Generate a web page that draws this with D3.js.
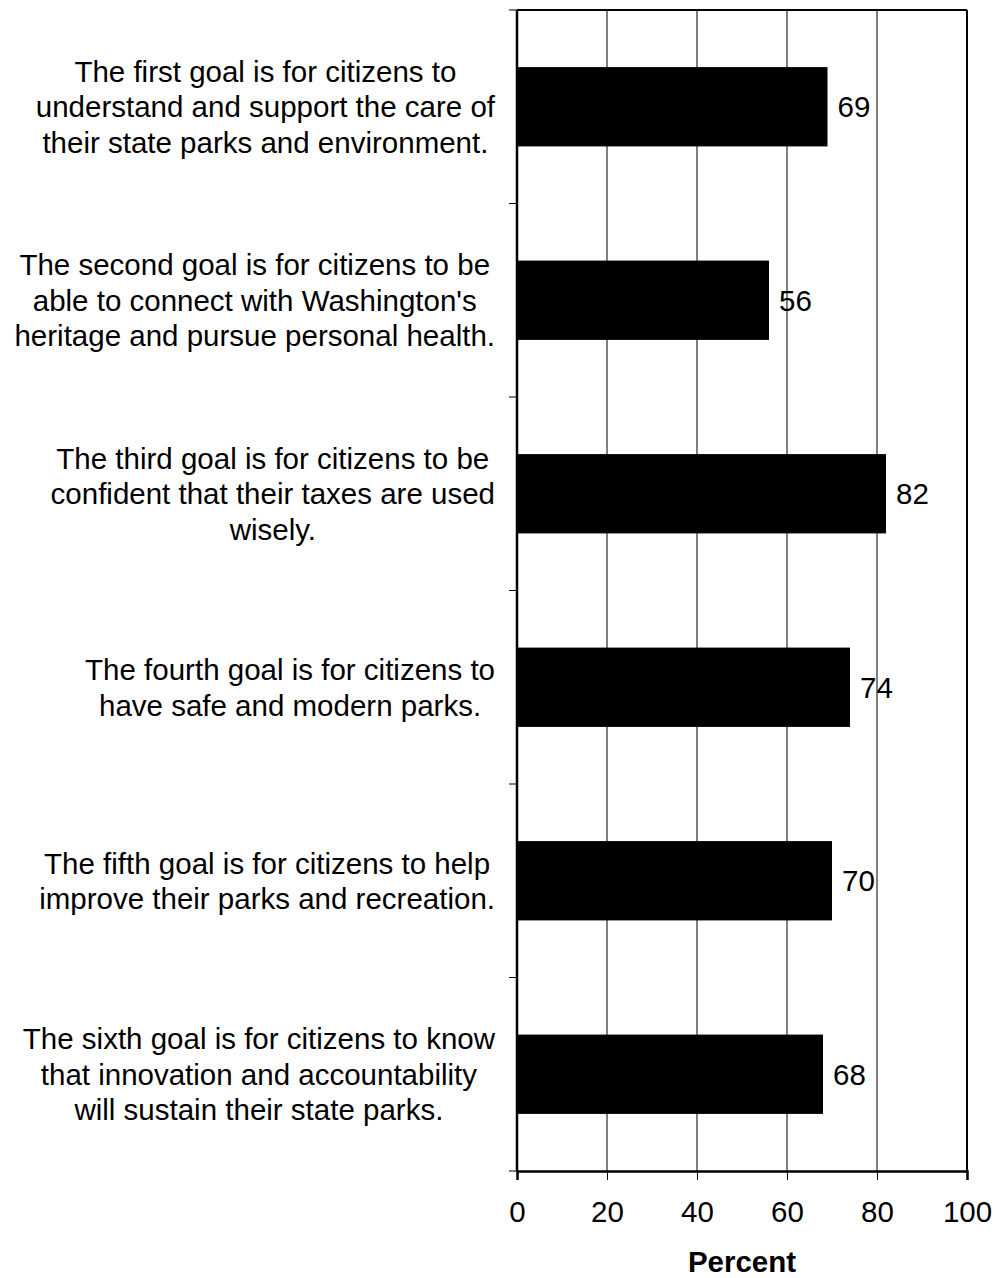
<!DOCTYPE html>
<html>
<head>
<meta charset="utf-8">
<script src="https://cdn.jsdelivr.net/npm/d3@7"></script>
<style>
  html, body { margin: 0; padding: 0; background: #fff; }
  svg text { font-family: "Liberation Sans", Arial, sans-serif; fill: #000; }
</style>
</head>
<body>
<div id="chart"></div>
<script>
// Goal labels, one array of lines per category
const goalLabels = [
  ["The first goal is for citizens to", "understand and support the care of", "their state parks and environment."],
  ["The second goal is for citizens to be", "able to connect with Washington's", "heritage and pursue personal health."],
  ["The third goal is for citizens to be", "confident that their taxes are used", "wisely."],
  ["The fourth goal is for citizens to", "have safe and modern parks."],
  ["The fifth goal is for citizens to help", "improve their parks and recreation."],
  ["The sixth goal is for citizens to know", "that innovation and accountability", "will sustain their state parks."]
];
const percentValues = [69, 56, 82, 74, 70, 68];
const xTicks = [0, 20, 40, 60, 80, 100];
const xTitle = "Percent";

const width = 995, height = 1278;
const margin = { top: 10, right: 28, bottom: 107, left: 517 };
const plotW = width - margin.left - margin.right;
const plotH = height - margin.top - margin.bottom;
const fontSize = 29.5;

const svg = d3.select("#chart").append("svg")
  .attr("width", width)
  .attr("height", height);

const g = svg.append("g").attr("transform", `translate(${margin.left},${margin.top})`);

const x = d3.scaleLinear().domain([0, 100]).range([0, plotW]);
const y = d3.scaleBand().domain(d3.range(goalLabels.length)).range([0, plotH]).paddingInner(0.59).paddingOuter(0.295);
const yFull = d3.scaleBand().domain(d3.range(goalLabels.length)).range([0, plotH]);

// vertical gridlines
g.selectAll(".grid")
  .data(xTicks.filter(t => t > 0 && t < 100))
  .enter().append("line")
  .attr("x1", d => x(d)).attr("x2", d => x(d))
  .attr("y1", 0).attr("y2", plotH)
  .attr("stroke", "#000").attr("stroke-width", 1);

// bars
g.selectAll(".bar")
  .data(percentValues)
  .enter().append("rect")
  .attr("x", x(0))
  .attr("y", (d, i) => y(i))
  .attr("width", d => x(d))
  .attr("height", y.bandwidth())
  .attr("fill", "#000");

// value labels
g.selectAll(".val")
  .data(percentValues)
  .enter().append("text")
  .attr("x", d => x(d) + 10)
  .attr("y", (d, i) => y(i) + y.bandwidth() / 2)
  .attr("dy", "0.36em")
  .style("font-size", fontSize + "px")
  .text(d => d);

// frame: top and right
g.append("line").attr("x1", 0).attr("x2", plotW).attr("y1", 0).attr("y2", 0)
  .attr("stroke", "#000").attr("stroke-width", 2);
g.append("line").attr("x1", plotW).attr("x2", plotW).attr("y1", 0).attr("y2", plotH)
  .attr("stroke", "#000").attr("stroke-width", 2);

// bottom axis
const xAxis = g.append("g")
  .attr("transform", `translate(0,${plotH})`)
  .call(d3.axisBottom(x).tickValues(xTicks).tickSize(9).tickPadding(21));
xAxis.select(".domain").attr("stroke-width", 2.5);
xAxis.selectAll(".tick line").attr("stroke-width", 1);
xAxis.selectAll("text")
  .style("font-size", fontSize + "px")
  .style("font-family", "'Liberation Sans', Arial, sans-serif");

// left axis (ticks at category boundaries)
const boundaries = d3.range(goalLabels.length + 1).map(i => i * yFull.step());
g.append("line").attr("x1", 0).attr("x2", 0).attr("y1", 0).attr("y2", plotH)
  .attr("stroke", "#000").attr("stroke-width", 2.5);
g.selectAll(".ytick")
  .data(boundaries)
  .enter().append("line")
  .attr("x1", -8).attr("x2", 0)
  .attr("y1", d => d).attr("y2", d => d)
  .attr("stroke", "#000").attr("stroke-width", 1);

// category labels: centred lines, block right edge near the axis
const labelRight = 495 - margin.left;
const lineH = 35.5;
goalLabels.forEach((lines, i) => {
  const cy = yFull(i) + yFull.bandwidth() / 2;
  const t = g.append("text")
    .attr("text-anchor", "middle")
    .style("font-size", fontSize + "px");
  const spans = lines.map((ln, j) => t.append("tspan")
    .attr("y", cy + (j - (lines.length - 1) / 2) * lineH)
    .attr("dy", "0.36em")
    .text(ln));
  const maxW = d3.max(spans, s => s.node().getComputedTextLength());
  spans.forEach(s => s.attr("x", labelRight - maxW / 2));
});

// axis title
svg.append("text")
  .attr("x", margin.left + plotW / 2)
  .attr("y", 1272)
  .attr("text-anchor", "middle")
  .style("font-size", fontSize + "px")
  .style("font-weight", "bold")
  .text(xTitle);
</script>
</body>
</html>
